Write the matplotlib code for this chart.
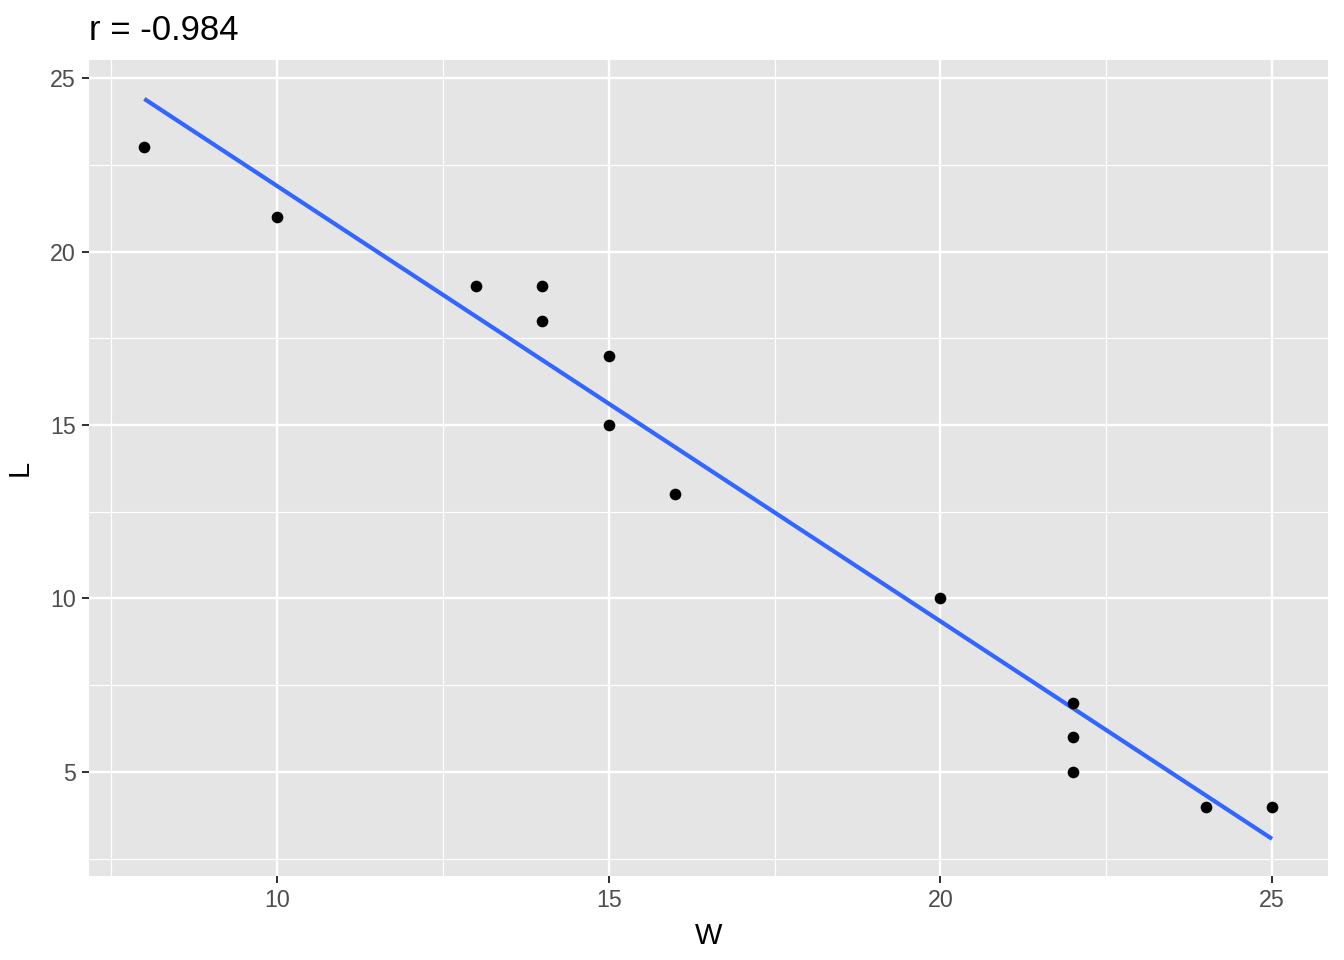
import matplotlib
matplotlib.use("Agg")
import matplotlib.pyplot as plt
import numpy as np

# data
W = [8, 10, 13, 14, 14, 15, 15, 16, 20, 22, 22, 22, 24, 25]
L = [23, 21, 19, 19, 18, 17, 15, 13, 10, 7, 6, 5, 4, 4]

x_ticks = [10, 15, 20, 25]
y_ticks = [5, 10, 15, 20, 25]
x_minor = [7.5, 12.5, 17.5, 22.5]
y_minor = [2.5, 7.5, 12.5, 17.5, 22.5]

plt.rcParams['font.family'] = ['Liberation Sans', 'DejaVu Sans']

w = np.array(W, dtype=float)
l = np.array(L, dtype=float)
slope, icpt = np.polyfit(w, l, 1)
r = np.corrcoef(w, l)[0, 1]

fig = plt.figure(figsize=(1344 / 144, 960 / 144), dpi=144)
ax = fig.add_axes([89 / 1344, 1 - 876 / 960, (1328 - 89) / 1344, (876 - 60) / 960])
ax.set_facecolor('#E5E5E5')

ax.set_xlim(7.166, 25.844)
ax.set_ylim(2.0, 25.52)

for v in x_minor:
    ax.axvline(v, color='white', lw=0.6, zorder=0)
for v in y_minor:
    ax.axhline(v, color='white', lw=0.6, zorder=0)
for v in x_ticks:
    ax.axvline(v, color='white', lw=1.2, zorder=0)
for v in y_ticks:
    ax.axhline(v, color='white', lw=1.2, zorder=0)

xs = np.array([w.min(), w.max()])
ax.plot(xs, icpt + slope * xs, color='#3366FF', lw=2.1, zorder=2, solid_capstyle='butt')
ax.scatter(W, L, s=34, color='black', zorder=3, linewidths=0)

ax.set_xticks(x_ticks)
ax.set_yticks(y_ticks)
ax.tick_params(colors='#333333', labelcolor='#4D4D4D', labelsize=11.6, length=3.6, width=1.0, pad=3)
for s in ax.spines.values():
    s.set_visible(False)

ax.set_xlabel('W', fontsize=14.5, labelpad=5)
ax.set_ylabel('L', fontsize=14.5, labelpad=8)
ax.set_title('r = {:.3f}'.format(r), fontsize=17.4, loc='left', pad=10)

fig.savefig('out.png', dpi=144)
